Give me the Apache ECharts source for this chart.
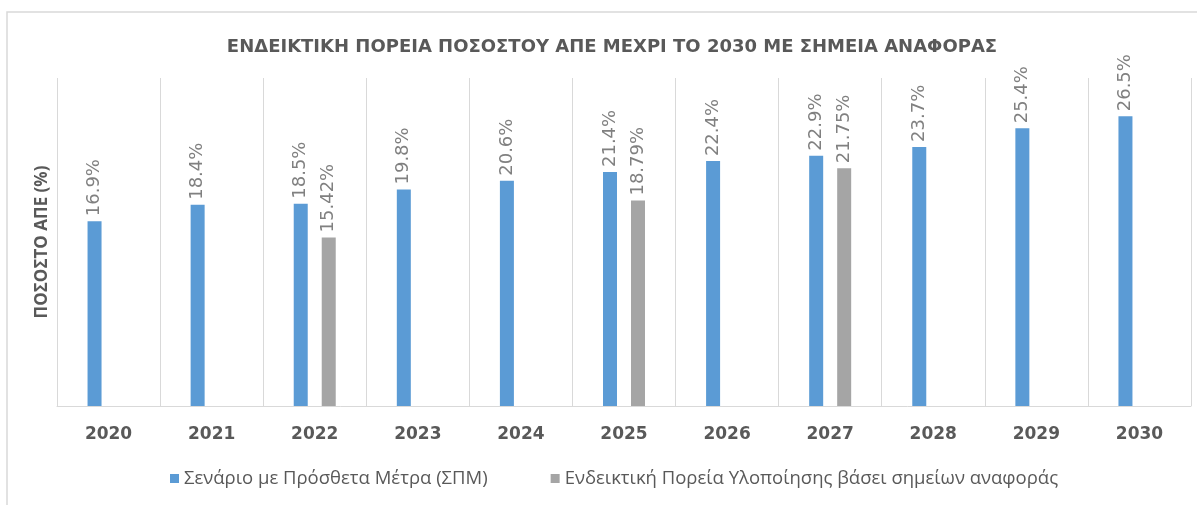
<!DOCTYPE html>
<html>
<head>
<meta charset="utf-8">
<script src="https://cdn.jsdelivr.net/npm/echarts@6/dist/echarts.min.js"></script>
<style>
  html, body { margin: 0; padding: 0; background: #fff; }
  #chart { width: 1197px; height: 505px; }
</style>
</head>
<body>
<div id="chart"></div>
<script>
// τιμές από το διάγραμμα
const years = ['2020', '2021', '2022', '2023', '2024', '2025', '2026', '2027', '2028', '2029', '2030'];
const spmValues = [16.9, 18.4, 18.5, 19.8, 20.6, 21.4, 22.4, 22.9, 23.7, 25.4, 26.5];
const refValues = [null, null, 15.42, null, null, 18.79, null, 21.75, null, null, null];
const seriesNames = ['Σενάριο με Πρόσθετα Μέτρα (ΣΠΜ)', 'Ενδεικτική Πορεία Υλοποίησης βάσει σημείων αναφοράς'];

const chart = echarts.init(document.getElementById('chart'));

const labelStyle = {
  show: true,
  position: 'top',
  rotate: 90,
  align: 'left',
  verticalAlign: 'middle',
  distance: 5,
  color: '#808080',
  fontFamily: 'DejaVu Sans',
  fontSize: 18,
  formatter: p => p.value + '%'
};

chart.setOption({
  animation: false,
  title: {
    text: 'ΕΝΔΕΙΚΤΙΚΗ ΠΟΡΕΙΑ ΠΟΣΟΣΤΟΥ ΑΠΕ ΜΕΧΡΙ ΤΟ 2030 ΜΕ ΣΗΜΕΙΑ ΑΝΑΦΟΡΑΣ',
    left: 607,
    top: 33,
    textAlign: 'center',
    textStyle: { fontFamily: 'DejaVu Sans', fontWeight: 'bold', fontSize: 18, color: '#595959' }
  },
  graphic: [{
    type: 'rect',
    shape: { x: 7, y: 12, width: 1200, height: 500 },
    style: { fill: 'none', stroke: '#d9d9d9', lineWidth: 1.5 },
    silent: true
  }],
  legend: {
    data: seriesNames,
    bottom: 12,
    left: 165,
    itemWidth: 9,
    itemHeight: 9,
    itemGap: 63,
    icon: 'rect',
    textStyle: { fontFamily: 'Open Sans', fontSize: 18.5, color: '#595959' }
  },
  grid: { left: 57, right: 6, top: 78, bottom: 99 },
  xAxis: {
    type: 'category',
    data: years,
    axisLine: { lineStyle: { color: '#d9d9d9' } },
    axisTick: { show: false },
    splitLine: { show: true, lineStyle: { color: '#d9d9d9' } },
    axisLabel: { margin: 20, fontFamily: 'DejaVu Sans', fontWeight: 'bold', fontSize: 17, color: '#595959' }
  },
  yAxis: {
    type: 'value',
    min: 0,
    max: 30,
    name: 'ΠΟΣΟΣΤΟ ΑΠΕ (%)',
    nameLocation: 'middle',
    nameGap: 6,
    nameTextStyle: { fontFamily: 'Open Sans', fontWeight: 'bold', fontSize: 17, color: '#595959' },
    axisLabel: { show: false },
    axisLine: { show: false },
    axisTick: { show: false },
    splitLine: { show: false }
  },
  series: [
    {
      name: seriesNames[0],
      type: 'bar',
      data: spmValues,
      barWidth: 14,
      barGap: '100%',
      itemStyle: { color: '#5b9bd5' },
      label: labelStyle
    },
    {
      name: seriesNames[1],
      type: 'bar',
      data: refValues,
      barWidth: 14,
      itemStyle: { color: '#a5a5a5' },
      label: labelStyle
    }
  ]
});
</script>
</body>
</html>
